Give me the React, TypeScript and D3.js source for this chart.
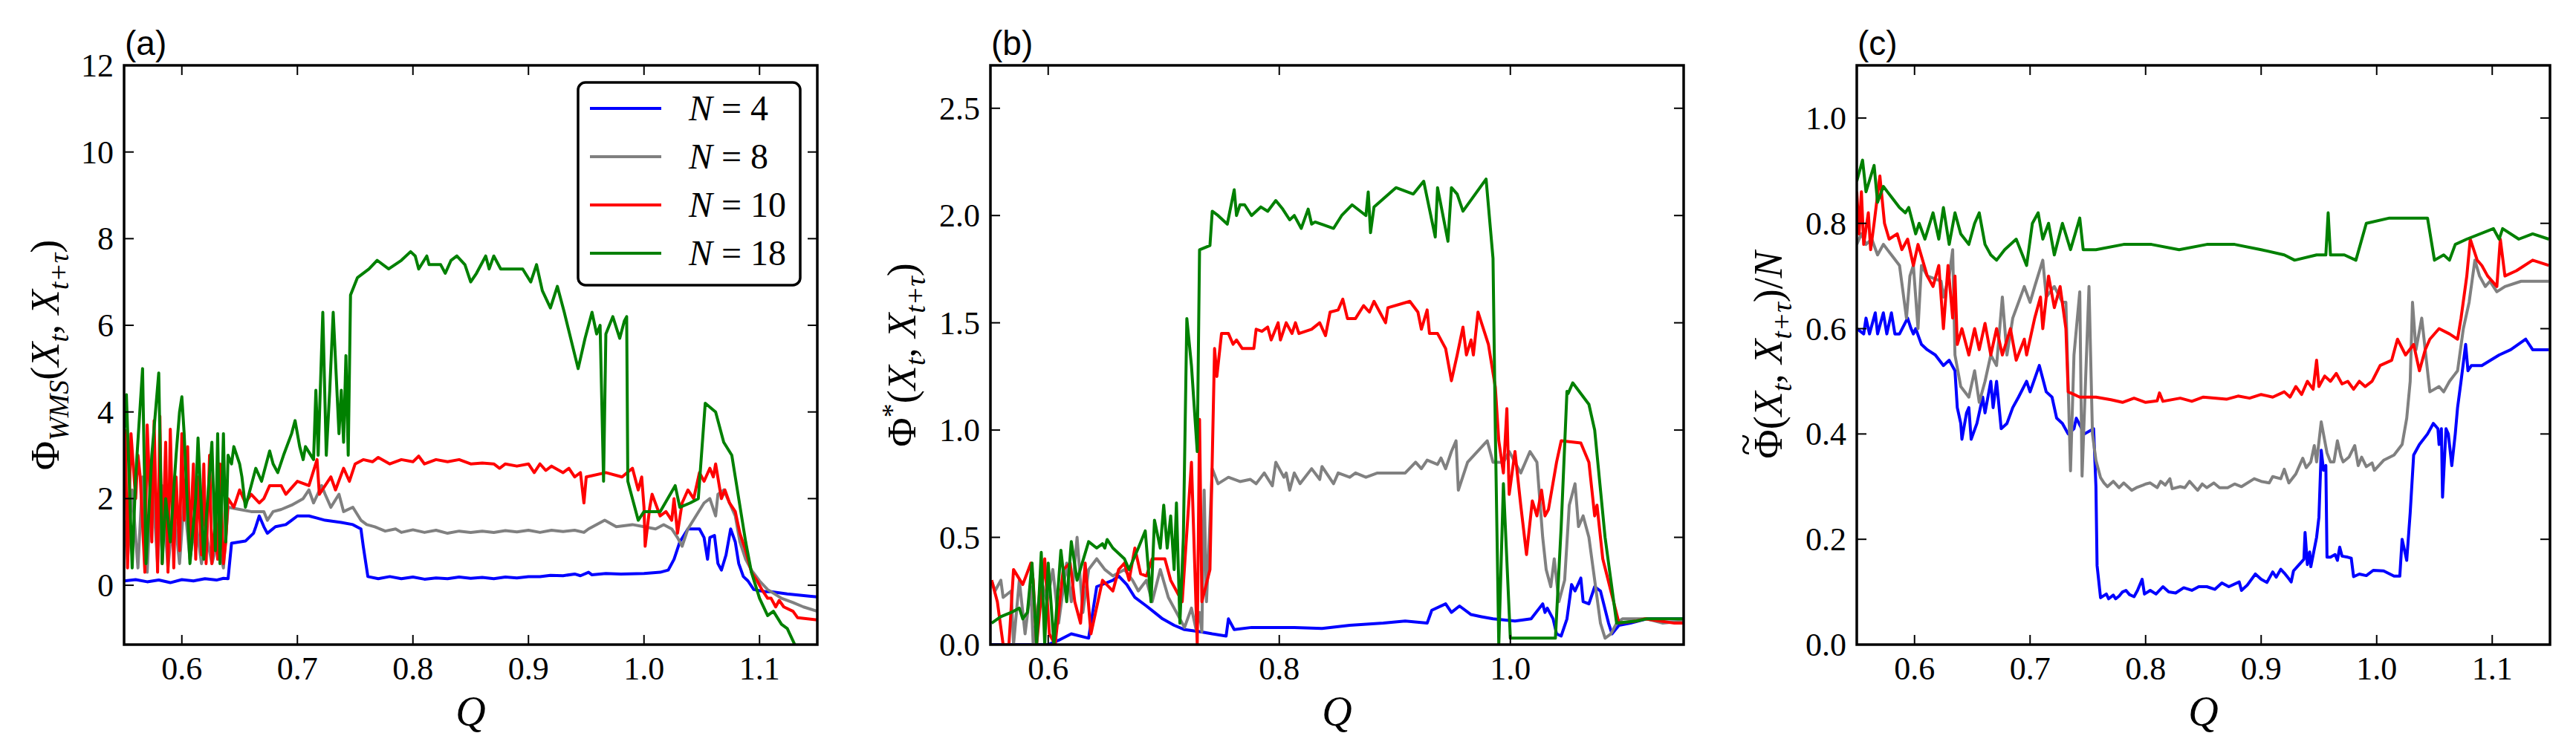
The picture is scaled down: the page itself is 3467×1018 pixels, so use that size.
import * as d3 from "d3";

const WIDTH = 3467;
const HEIGHT = 1018;
const MARGIN = { top: 88, left: 167 };
const PANEL_W = 933;
const PANEL_H = 780;
const PANEL_STEP = 1166;

const SERIF = "'Liberation Serif', 'Times New Roman', serif";
const SANS = "'Liberation Sans', Arial, sans-serif";

const COLORS = ["#0000ff", "#808080", "#ff0000", "#008000"];
const N_VALUES = ["4", "8", "10", "18"];

type Pt = [number, number];

// ---- panel (a): Phi_WMS ----
const wmsN4: Pt[] = [[0.55,0.1],[0.56,0.13],[0.57,0.08],[0.58,0.12],[0.59,0.06],[0.6,0.13],[0.61,0.1],[0.62,0.15],[0.63,0.12],[0.636,0.16],[0.64,0.15],[0.643,0.97],[0.65,1.0],[0.655,1.02],[0.662,1.2],[0.664,1.35],[0.667,1.6],[0.671,1.35],[0.674,1.2],[0.681,1.35],[0.69,1.4],[0.695,1.5],[0.7,1.6],[0.71,1.6],[0.717,1.55],[0.724,1.5],[0.738,1.45],[0.748,1.4],[0.755,1.3],[0.757,0.9],[0.761,0.2],[0.77,0.15],[0.78,0.2],[0.79,0.15],[0.8,0.19],[0.81,0.14],[0.82,0.17],[0.83,0.15],[0.84,0.19],[0.85,0.16],[0.86,0.18],[0.87,0.15],[0.88,0.19],[0.89,0.17],[0.9,0.2],[0.91,0.2],[0.919,0.23],[0.93,0.22],[0.94,0.26],[0.945,0.22],[0.952,0.3],[0.955,0.24],[0.967,0.27],[0.98,0.26],[1.0,0.27],[1.014,0.3],[1.021,0.35],[1.026,0.6],[1.031,1.0],[1.038,1.3],[1.048,1.3],[1.052,1.1],[1.055,0.6],[1.057,1.1],[1.061,1.15],[1.064,0.5],[1.067,0.35],[1.071,0.7],[1.075,1.3],[1.079,1.0],[1.082,0.5],[1.086,0.2],[1.09,0.1],[1.095,-0.1],[1.105,-0.15],[1.11,-0.15],[1.124,-0.2],[1.143,-0.25],[1.15,-0.27]];
const wmsN8: Pt[] = [[0.55,1.5],[0.553,0.6],[0.557,2.2],[0.562,0.4],[0.566,2.5],[0.57,0.3],[0.574,2.6],[0.579,0.5],[0.583,2.3],[0.588,0.4],[0.593,1.8],[0.598,0.5],[0.602,2.0],[0.607,0.6],[0.612,1.5],[0.617,0.5],[0.621,1.2],[0.626,0.5],[0.631,1.0],[0.636,0.4],[0.64,1.8],[0.65,1.75],[0.66,1.7],[0.671,1.7],[0.674,1.5],[0.679,1.7],[0.686,1.75],[0.695,1.85],[0.705,2.0],[0.71,2.2],[0.714,1.9],[0.721,2.3],[0.724,2.1],[0.729,1.8],[0.736,2.1],[0.74,1.7],[0.748,1.8],[0.755,1.5],[0.76,1.4],[0.767,1.35],[0.776,1.25],[0.785,1.3],[0.79,1.22],[0.8,1.28],[0.81,1.22],[0.82,1.27],[0.83,1.2],[0.84,1.25],[0.85,1.22],[0.86,1.25],[0.87,1.22],[0.88,1.26],[0.89,1.23],[0.9,1.27],[0.91,1.22],[0.92,1.27],[0.93,1.24],[0.94,1.27],[0.948,1.22],[0.952,1.3],[0.966,1.5],[0.976,1.35],[0.99,1.4],[1.0,1.35],[1.01,1.3],[1.017,1.4],[1.024,1.3],[1.029,1.1],[1.033,0.9],[1.038,1.3],[1.045,1.6],[1.052,1.9],[1.057,2.0],[1.062,1.6],[1.064,2.1],[1.069,2.2],[1.074,1.9],[1.079,1.6],[1.083,1.0],[1.088,0.6],[1.093,0.35],[1.1,0.1],[1.107,-0.1],[1.119,-0.3],[1.129,-0.4],[1.138,-0.5],[1.15,-0.6]];
const wmsN10: Pt[] = [[0.551,3.6],[0.553,0.4],[0.556,3.5],[0.56,2.0],[0.562,3.0],[0.564,2.5],[0.568,0.3],[0.57,3.7],[0.574,1.0],[0.576,3.8],[0.579,0.3],[0.581,3.9],[0.583,0.5],[0.586,3.3],[0.588,0.3],[0.59,3.6],[0.593,0.4],[0.595,2.5],[0.598,0.8],[0.6,3.5],[0.602,1.5],[0.605,3.2],[0.607,0.9],[0.61,2.8],[0.612,0.6],[0.614,2.5],[0.617,0.7],[0.619,2.8],[0.621,0.5],[0.624,3.0],[0.626,0.5],[0.629,1.5],[0.631,0.6],[0.633,2.8],[0.636,0.5],[0.638,1.0],[0.64,2.0],[0.645,1.8],[0.65,2.2],[0.655,1.9],[0.66,2.1],[0.667,1.9],[0.671,2.0],[0.676,2.3],[0.686,2.3],[0.69,2.1],[0.7,2.4],[0.71,2.3],[0.717,2.9],[0.719,2.1],[0.729,2.5],[0.733,2.2],[0.74,2.7],[0.745,2.4],[0.75,2.8],[0.757,2.9],[0.765,2.85],[0.77,2.95],[0.78,2.8],[0.79,2.9],[0.8,2.85],[0.805,2.98],[0.81,2.8],[0.82,2.9],[0.83,2.85],[0.84,2.9],[0.85,2.8],[0.86,2.82],[0.87,2.8],[0.875,2.7],[0.88,2.8],[0.89,2.75],[0.9,2.8],[0.905,2.6],[0.91,2.8],[0.915,2.65],[0.92,2.75],[0.93,2.6],[0.935,2.7],[0.94,2.5],[0.945,2.6],[0.948,1.9],[0.95,2.5],[0.967,2.6],[0.981,2.5],[0.99,2.7],[0.995,2.2],[0.998,2.5],[1.0,1.8],[1.001,0.9],[1.005,1.8],[1.007,2.1],[1.014,1.6],[1.019,1.7],[1.024,1.5],[1.026,2.0],[1.029,1.2],[1.033,1.9],[1.038,2.2],[1.043,2.0],[1.048,2.6],[1.052,2.4],[1.057,2.7],[1.06,2.5],[1.062,2.8],[1.067,2.0],[1.07,2.2],[1.074,1.9],[1.079,1.7],[1.083,1.2],[1.088,0.8],[1.093,0.3],[1.098,0.1],[1.102,-0.1],[1.107,-0.3],[1.11,-0.3],[1.114,-0.5],[1.117,-0.35],[1.121,-0.5],[1.129,-0.6],[1.133,-0.75],[1.15,-0.8]];
const wmsN18: Pt[] = [[0.55,3.5],[0.552,4.4],[0.557,0.4],[0.56,2.5],[0.566,5.0],[0.569,0.5],[0.574,3.0],[0.58,4.9],[0.583,0.5],[0.586,2.0],[0.59,1.0],[0.595,3.0],[0.598,4.0],[0.6,4.35],[0.602,3.5],[0.607,0.5],[0.612,2.0],[0.614,3.4],[0.619,0.6],[0.621,1.5],[0.626,3.3],[0.629,0.8],[0.631,3.5],[0.633,0.5],[0.636,3.5],[0.638,1.0],[0.64,3.0],[0.643,2.8],[0.645,3.2],[0.65,2.8],[0.652,2.5],[0.655,1.8],[0.66,2.3],[0.664,2.7],[0.669,2.4],[0.676,3.1],[0.679,2.8],[0.683,2.6],[0.688,3.0],[0.695,3.5],[0.698,3.8],[0.702,3.2],[0.705,2.9],[0.707,3.2],[0.714,2.9],[0.716,4.5],[0.718,3.0],[0.722,6.3],[0.725,3.0],[0.728,4.5],[0.731,6.3],[0.736,3.5],[0.738,4.5],[0.74,3.3],[0.742,5.3],[0.744,3.0],[0.746,6.7],[0.752,7.1],[0.762,7.3],[0.769,7.5],[0.779,7.3],[0.79,7.5],[0.798,7.7],[0.802,7.6],[0.805,7.3],[0.812,7.6],[0.814,7.4],[0.824,7.4],[0.828,7.2],[0.833,7.5],[0.838,7.6],[0.845,7.4],[0.85,7.0],[0.855,7.2],[0.863,7.6],[0.866,7.3],[0.87,7.6],[0.876,7.3],[0.895,7.3],[0.902,7.0],[0.907,7.4],[0.912,6.8],[0.919,6.4],[0.925,6.9],[0.931,6.3],[0.943,5.0],[0.949,5.7],[0.955,6.3],[0.959,5.8],[0.962,6.0],[0.965,2.4],[0.967,5.8],[0.973,6.2],[0.979,5.7],[0.983,6.1],[0.985,6.2],[0.986,2.4],[0.99,2.0],[0.995,1.5],[1.0,1.7],[1.014,1.7],[1.027,2.3],[1.031,1.8],[1.04,1.9],[1.047,2.0],[1.053,4.2],[1.062,4.0],[1.069,3.3],[1.076,3.0],[1.088,1.0],[1.093,0.3],[1.1,-0.3],[1.107,-0.7],[1.112,-0.6],[1.119,-0.9],[1.124,-1.0],[1.131,-1.4],[1.138,-1.8]];

// ---- panel (b): Phi* ----
const starN4: Pt[] = [[0.55,0.0],[0.6,0.0],[0.609,0.02],[0.62,0.05],[0.635,0.03],[0.642,0.27],[0.656,0.3],[0.661,0.32],[0.668,0.28],[0.675,0.22],[0.685,0.18],[0.692,0.15],[0.699,0.12],[0.709,0.09],[0.718,0.07],[0.732,0.06],[0.742,0.05],[0.754,0.04],[0.756,0.12],[0.761,0.07],[0.776,0.08],[0.813,0.08],[0.837,0.075],[0.861,0.09],[0.89,0.1],[0.909,0.11],[0.928,0.1],[0.932,0.16],[0.944,0.19],[0.949,0.15],[0.956,0.18],[0.966,0.14],[0.975,0.13],[0.985,0.12],[1.004,0.11],[1.018,0.12],[1.028,0.19],[1.03,0.15],[1.032,0.17],[1.037,0.12],[1.04,0.05],[1.044,0.04],[1.049,0.12],[1.053,0.28],[1.056,0.25],[1.061,0.31],[1.063,0.2],[1.068,0.19],[1.073,0.27],[1.078,0.25],[1.085,0.1],[1.088,0.05],[1.094,0.09],[1.104,0.1],[1.118,0.12],[1.15,0.12]];
const starN8: Pt[] = [[0.551,0.3],[0.554,0.25],[0.559,0.3],[0.561,0.22],[0.568,0.25],[0.57,0.0],[0.575,0.3],[0.58,0.05],[0.585,0.27],[0.587,0.0],[0.594,0.3],[0.599,0.2],[0.604,0.35],[0.609,0.1],[0.616,0.38],[0.62,0.2],[0.625,0.5],[0.63,0.15],[0.635,0.35],[0.642,0.4],[0.649,0.35],[0.656,0.32],[0.666,0.35],[0.673,0.3],[0.678,0.25],[0.685,0.3],[0.69,0.2],[0.697,0.35],[0.704,0.22],[0.711,0.15],[0.718,0.08],[0.724,0.17],[0.728,0.07],[0.731,0.15],[0.733,0.06],[0.735,0.72],[0.737,0.2],[0.742,0.82],[0.747,0.75],[0.756,0.78],[0.766,0.76],[0.775,0.77],[0.78,0.75],[0.787,0.8],[0.794,0.74],[0.797,0.85],[0.804,0.78],[0.806,0.8],[0.809,0.72],[0.813,0.8],[0.818,0.75],[0.828,0.82],[0.835,0.77],[0.837,0.83],[0.847,0.75],[0.851,0.8],[0.861,0.78],[0.866,0.8],[0.875,0.78],[0.885,0.8],[0.909,0.8],[0.918,0.85],[0.923,0.82],[0.928,0.86],[0.937,0.84],[0.94,0.87],[0.944,0.82],[0.949,0.9],[0.953,0.95],[0.955,0.72],[0.963,0.85],[0.98,0.95],[0.985,0.85],[0.994,0.85],[0.999,0.9],[1.009,0.8],[1.013,0.85],[1.017,0.9],[1.023,0.85],[1.028,0.5],[1.031,0.35],[1.035,0.27],[1.038,0.4],[1.042,0.2],[1.047,0.3],[1.051,0.65],[1.056,0.75],[1.059,0.55],[1.063,0.6],[1.068,0.5],[1.073,0.3],[1.078,0.1],[1.082,0.03],[1.087,0.05],[1.092,0.1],[1.097,0.12],[1.118,0.12],[1.132,0.1],[1.15,0.11]];
const starN10: Pt[] = [[0.551,0.3],[0.556,0.2],[0.561,0.0],[0.566,0.0],[0.57,0.35],[0.578,0.28],[0.585,0.38],[0.587,0.3],[0.59,0.0],[0.597,0.4],[0.601,0.05],[0.606,0.0],[0.613,0.35],[0.619,0.38],[0.623,0.2],[0.628,0.1],[0.632,0.38],[0.637,0.05],[0.647,0.3],[0.656,0.25],[0.661,0.35],[0.666,0.38],[0.67,0.3],[0.675,0.45],[0.68,0.33],[0.685,0.32],[0.69,0.4],[0.701,0.4],[0.706,0.3],[0.711,0.25],[0.716,0.2],[0.724,0.85],[0.729,0.0],[0.731,1.05],[0.733,0.2],[0.74,0.35],[0.744,1.38],[0.746,1.25],[0.75,1.45],[0.756,1.45],[0.76,1.4],[0.763,1.42],[0.768,1.38],[0.778,1.38],[0.78,1.47],[0.785,1.46],[0.79,1.48],[0.793,1.42],[0.799,1.5],[0.801,1.42],[0.806,1.5],[0.811,1.45],[0.814,1.5],[0.817,1.45],[0.828,1.47],[0.835,1.5],[0.84,1.44],[0.844,1.55],[0.851,1.56],[0.855,1.61],[0.859,1.52],[0.866,1.52],[0.873,1.58],[0.878,1.55],[0.882,1.6],[0.887,1.55],[0.892,1.5],[0.894,1.57],[0.913,1.6],[0.92,1.55],[0.923,1.47],[0.928,1.56],[0.93,1.45],[0.937,1.45],[0.944,1.38],[0.949,1.23],[0.954,1.35],[0.959,1.48],[0.962,1.35],[0.966,1.42],[0.968,1.35],[0.97,1.45],[0.972,1.55],[0.978,1.45],[0.981,1.4],[0.987,1.2],[0.99,0.95],[0.994,0.8],[0.997,1.1],[0.999,0.7],[1.004,0.9],[1.009,0.65],[1.014,0.42],[1.019,0.67],[1.023,0.6],[1.027,0.72],[1.03,0.6],[1.033,0.63],[1.04,0.85],[1.044,0.95],[1.061,0.94],[1.068,0.85],[1.073,0.6],[1.075,0.65],[1.08,0.4],[1.087,0.25],[1.094,0.1],[1.109,0.11],[1.116,0.12],[1.13,0.11],[1.142,0.1],[1.15,0.1]];
const starN18: Pt[] = [[0.551,0.1],[0.559,0.13],[0.568,0.15],[0.575,0.17],[0.578,0.12],[0.582,0.15],[0.586,0.38],[0.59,0.0],[0.594,0.43],[0.597,0.0],[0.6,0.38],[0.605,0.0],[0.611,0.44],[0.616,0.2],[0.62,0.48],[0.625,0.3],[0.635,0.48],[0.642,0.45],[0.647,0.47],[0.649,0.45],[0.651,0.49],[0.656,0.45],[0.666,0.4],[0.67,0.35],[0.678,0.45],[0.684,0.53],[0.689,0.2],[0.692,0.58],[0.697,0.45],[0.7,0.65],[0.703,0.45],[0.706,0.6],[0.709,0.35],[0.711,0.66],[0.714,0.1],[0.717,0.5],[0.72,1.52],[0.724,1.3],[0.729,0.9],[0.731,1.84],[0.74,1.86],[0.742,2.02],[0.747,2.0],[0.755,1.96],[0.761,2.12],[0.763,2.0],[0.766,2.05],[0.77,2.05],[0.776,2.0],[0.784,2.04],[0.79,2.02],[0.797,2.07],[0.803,2.03],[0.809,1.98],[0.813,2.0],[0.819,1.94],[0.825,2.03],[0.828,1.96],[0.831,1.97],[0.847,1.94],[0.854,2.0],[0.863,2.05],[0.875,2.0],[0.877,2.11],[0.879,1.92],[0.882,2.04],[0.901,2.13],[0.916,2.1],[0.925,2.16],[0.935,1.9],[0.937,2.13],[0.946,1.88],[0.949,2.13],[0.954,2.1],[0.959,2.02],[0.979,2.17],[0.985,1.8],[0.987,1.0],[0.99,0.0],[0.994,0.75],[1.0,0.03],[1.039,0.03],[1.044,0.55],[1.049,1.18],[1.05,1.17],[1.054,1.22],[1.068,1.12],[1.073,1.0],[1.082,0.5],[1.087,0.3],[1.092,0.1],[1.109,0.11],[1.118,0.12],[1.15,0.12]];

// ---- panel (c): normalised Phi ----
const normN4: Pt[] = [[0.55,0.6],[0.556,0.59],[0.558,0.62],[0.561,0.59],[0.566,0.63],[0.568,0.59],[0.573,0.63],[0.576,0.59],[0.58,0.63],[0.583,0.59],[0.587,0.59],[0.594,0.62],[0.597,0.6],[0.599,0.59],[0.601,0.6],[0.606,0.57],[0.611,0.56],[0.618,0.55],[0.625,0.53],[0.63,0.54],[0.635,0.52],[0.637,0.45],[0.64,0.42],[0.641,0.39],[0.645,0.44],[0.647,0.45],[0.649,0.39],[0.654,0.42],[0.659,0.47],[0.661,0.44],[0.666,0.5],[0.668,0.45],[0.671,0.5],[0.675,0.41],[0.68,0.42],[0.685,0.45],[0.69,0.47],[0.697,0.5],[0.7,0.48],[0.708,0.53],[0.714,0.48],[0.719,0.47],[0.723,0.43],[0.728,0.42],[0.733,0.4],[0.738,0.41],[0.74,0.43],[0.747,0.4],[0.755,0.41],[0.757,0.3],[0.758,0.15],[0.761,0.089],[0.766,0.096],[0.768,0.087],[0.772,0.094],[0.774,0.087],[0.777,0.092],[0.78,0.1],[0.783,0.103],[0.786,0.095],[0.79,0.091],[0.793,0.103],[0.797,0.124],[0.799,0.096],[0.804,0.103],[0.809,0.096],[0.815,0.11],[0.82,0.1],[0.826,0.098],[0.833,0.108],[0.84,0.103],[0.846,0.11],[0.853,0.11],[0.86,0.105],[0.866,0.117],[0.872,0.11],[0.881,0.119],[0.883,0.103],[0.888,0.113],[0.895,0.134],[0.9,0.124],[0.905,0.118],[0.91,0.138],[0.913,0.128],[0.917,0.143],[0.92,0.136],[0.924,0.125],[0.926,0.119],[0.928,0.14],[0.937,0.162],[0.938,0.213],[0.94,0.152],[0.942,0.176],[0.943,0.148],[0.948,0.204],[0.95,0.242],[0.952,0.369],[0.954,0.331],[0.956,0.34],[0.957,0.166],[0.96,0.166],[0.964,0.171],[0.966,0.16],[0.968,0.185],[0.97,0.168],[0.975,0.166],[0.978,0.164],[0.98,0.129],[0.985,0.134],[0.991,0.131],[0.997,0.141],[1.006,0.14],[1.015,0.13],[1.02,0.13],[1.022,0.2],[1.026,0.16],[1.029,0.25],[1.032,0.36],[1.037,0.38],[1.044,0.4],[1.049,0.42],[1.053,0.41],[1.054,0.38],[1.056,0.41],[1.057,0.28],[1.06,0.41],[1.062,0.4],[1.065,0.34],[1.068,0.4],[1.07,0.45],[1.073,0.5],[1.077,0.57],[1.079,0.52],[1.082,0.53],[1.091,0.53],[1.106,0.55],[1.116,0.56],[1.129,0.58],[1.135,0.56],[1.149,0.56]];
const normN8: Pt[] = [[0.55,0.76],[0.554,0.78],[0.558,0.76],[0.563,0.77],[0.568,0.74],[0.573,0.76],[0.58,0.74],[0.587,0.72],[0.593,0.62],[0.596,0.7],[0.599,0.72],[0.603,0.6],[0.606,0.72],[0.611,0.7],[0.623,0.69],[0.625,0.66],[0.63,0.7],[0.633,0.75],[0.635,0.55],[0.64,0.49],[0.647,0.47],[0.652,0.52],[0.656,0.46],[0.661,0.5],[0.666,0.55],[0.671,0.53],[0.676,0.66],[0.68,0.55],[0.685,0.62],[0.69,0.65],[0.695,0.68],[0.7,0.65],[0.704,0.68],[0.711,0.73],[0.714,0.66],[0.721,0.68],[0.728,0.65],[0.731,0.65],[0.735,0.33],[0.738,0.55],[0.743,0.67],[0.745,0.32],[0.751,0.68],[0.754,0.4],[0.757,0.35],[0.761,0.317],[0.764,0.307],[0.767,0.3],[0.772,0.31],[0.777,0.298],[0.781,0.307],[0.788,0.293],[0.792,0.298],[0.798,0.303],[0.8,0.305],[0.804,0.307],[0.81,0.298],[0.813,0.31],[0.817,0.303],[0.821,0.315],[0.823,0.296],[0.83,0.3],[0.834,0.298],[0.838,0.31],[0.845,0.293],[0.849,0.305],[0.853,0.298],[0.859,0.307],[0.864,0.298],[0.871,0.298],[0.877,0.305],[0.883,0.3],[0.894,0.315],[0.9,0.31],[0.907,0.307],[0.91,0.319],[0.917,0.315],[0.92,0.333],[0.924,0.307],[0.93,0.324],[0.936,0.354],[0.939,0.336],[0.943,0.347],[0.946,0.378],[0.948,0.347],[0.952,0.423],[0.957,0.364],[0.96,0.347],[0.963,0.347],[0.966,0.387],[0.969,0.358],[0.971,0.347],[0.976,0.356],[0.981,0.378],[0.984,0.34],[0.987,0.356],[0.991,0.338],[0.996,0.345],[0.998,0.331],[1.006,0.35],[1.015,0.36],[1.022,0.38],[1.026,0.43],[1.029,0.5],[1.031,0.65],[1.034,0.56],[1.039,0.62],[1.044,0.52],[1.046,0.48],[1.054,0.49],[1.058,0.48],[1.063,0.5],[1.07,0.52],[1.075,0.6],[1.08,0.65],[1.085,0.73],[1.089,0.7],[1.094,0.68],[1.098,0.69],[1.104,0.67],[1.111,0.68],[1.125,0.69],[1.149,0.69]];
const normN10: Pt[] = [[0.55,0.86],[0.552,0.78],[0.554,0.86],[0.556,0.76],[0.56,0.82],[0.562,0.75],[0.565,0.8],[0.57,0.89],[0.574,0.8],[0.578,0.77],[0.585,0.78],[0.589,0.75],[0.594,0.77],[0.599,0.72],[0.603,0.76],[0.611,0.7],[0.616,0.68],[0.621,0.72],[0.625,0.6],[0.629,0.72],[0.633,0.62],[0.635,0.7],[0.637,0.57],[0.641,0.6],[0.647,0.55],[0.652,0.6],[0.656,0.56],[0.661,0.61],[0.666,0.55],[0.671,0.6],[0.676,0.55],[0.683,0.6],[0.688,0.54],[0.695,0.58],[0.697,0.55],[0.704,0.62],[0.709,0.66],[0.711,0.6],[0.716,0.7],[0.721,0.64],[0.726,0.68],[0.731,0.6],[0.733,0.48],[0.743,0.47],[0.757,0.47],[0.77,0.465],[0.78,0.46],[0.79,0.468],[0.8,0.46],[0.81,0.463],[0.812,0.478],[0.815,0.462],[0.83,0.468],[0.84,0.462],[0.85,0.47],[0.87,0.466],[0.88,0.472],[0.89,0.468],[0.9,0.475],[0.91,0.47],[0.92,0.48],[0.925,0.47],[0.93,0.49],[0.935,0.475],[0.94,0.5],[0.945,0.485],[0.948,0.54],[0.95,0.49],[0.955,0.51],[0.96,0.5],[0.965,0.515],[0.97,0.495],[0.975,0.5],[0.98,0.485],[0.985,0.5],[0.99,0.49],[0.996,0.5],[1.003,0.53],[1.013,0.54],[1.018,0.58],[1.025,0.55],[1.032,0.57],[1.037,0.52],[1.042,0.56],[1.046,0.58],[1.054,0.6],[1.063,0.59],[1.07,0.58],[1.073,0.62],[1.078,0.7],[1.081,0.77],[1.087,0.73],[1.091,0.72],[1.096,0.7],[1.104,0.68],[1.107,0.77],[1.111,0.7],[1.121,0.71],[1.135,0.73],[1.149,0.72]];
const normN18: Pt[] = [[0.55,0.88],[0.555,0.92],[0.558,0.86],[0.565,0.91],[0.568,0.84],[0.573,0.87],[0.58,0.85],[0.587,0.83],[0.592,0.82],[0.595,0.83],[0.601,0.78],[0.604,0.8],[0.609,0.77],[0.616,0.82],[0.621,0.77],[0.625,0.83],[0.63,0.76],[0.635,0.82],[0.64,0.78],[0.647,0.76],[0.652,0.8],[0.656,0.82],[0.661,0.76],[0.666,0.74],[0.671,0.73],[0.678,0.75],[0.688,0.77],[0.697,0.72],[0.702,0.8],[0.707,0.82],[0.711,0.77],[0.716,0.8],[0.721,0.74],[0.728,0.8],[0.735,0.75],[0.743,0.81],[0.746,0.75],[0.757,0.75],[0.781,0.76],[0.805,0.76],[0.829,0.75],[0.853,0.76],[0.877,0.76],[0.9,0.75],[0.92,0.74],[0.929,0.73],[0.948,0.74],[0.956,0.74],[0.958,0.82],[0.96,0.74],[0.972,0.74],[0.982,0.73],[0.991,0.8],[1.011,0.81],[1.044,0.81],[1.05,0.73],[1.058,0.74],[1.063,0.73],[1.068,0.76],[1.078,0.77],[1.101,0.79],[1.106,0.77],[1.109,0.79],[1.123,0.77],[1.135,0.78],[1.149,0.77]];

const X_DOMAIN: [number, number] = [0.55, 1.15];
const X_TICKS_FINE = [0.6, 0.7, 0.8, 0.9, 1.0, 1.1];
const X_TICKS_COARSE = [0.6, 0.8, 1.0];
const Y_TICKS_A = [0, 2, 4, 6, 8, 10, 12];
const Y_TICKS_B = [0, 0.5, 1.0, 1.5, 2.0, 2.5];
const Y_TICKS_C = [0, 0.2, 0.4, 0.6, 0.8, 1.0];

// a piece of math text: italic, subscript, superscript, or an accent laid over the previous glyph
type Seg = { t: string; i?: boolean; sub?: boolean; sup?: boolean; accent?: boolean };

const LABEL_A: Seg[] = [
  { t: "Φ" }, { t: "WMS", i: true, sub: true }, { t: "(" },
  { t: "X", i: true }, { t: "t", i: true, sub: true }, { t: ", " },
  { t: "X", i: true }, { t: "t+τ", i: true, sub: true }, { t: ")" },
];
const LABEL_B: Seg[] = [
  { t: "Φ" }, { t: "*", sup: true }, { t: "(" },
  { t: "X", i: true }, { t: "t", i: true, sub: true }, { t: ", " },
  { t: "X", i: true }, { t: "t+τ", i: true, sub: true }, { t: ")" },
];
const LABEL_C: Seg[] = [
  { t: "Φ" }, { t: "~", accent: true }, { t: "(" },
  { t: "X", i: true }, { t: "t", i: true, sub: true }, { t: ", " },
  { t: "X", i: true }, { t: "t+τ", i: true, sub: true }, { t: ")/" }, { t: "N", i: true },
];

const MathText = ({ segs, size }: { segs: Seg[]; size: number }) => {
  let shift = 0;
  let pendingDx = 0;
  const phiW = size * 0.76;
  const tildeW = size * 0.54;
  return (
    <>
      {segs.map((s, k) => {
        let target = 0;
        let dx = pendingDx;
        pendingDx = 0;
        if (s.sub) target = size * 0.24;
        if (s.sup) target = -size * 0.36;
        if (s.accent) {
          target = -size * 0.56;
          dx = -(phiW + tildeW) / 2;
          pendingDx = (phiW - tildeW) / 2;
        }
        const dy = target - shift;
        shift = target;
        return (
          <tspan
            key={k}
            dx={dx}
            dy={dy}
            fontStyle={s.i ? "italic" : "normal"}
            fontSize={s.sub || s.sup ? size * 0.7 : size}
          >
            {s.t}
          </tspan>
        );
      })}
    </>
  );
};

type PanelProps = {
  index: number;
  letter: string;
  series: Pt[][];
  yDomain: [number, number];
  yTicks: number[];
  xTicks: number[];
  yFormat: (v: number) => string;
  yLabel: Seg[];
  yLabelOffset: number;
  legend?: boolean;
};

const Panel = ({ index, letter, series, yDomain, yTicks, xTicks, yFormat, yLabel, yLabelOffset, legend }: PanelProps) => {
  const left = MARGIN.left + index * PANEL_STEP;
  const x = d3.scaleLinear().domain(X_DOMAIN).range([0, PANEL_W]);
  const y = d3.scaleLinear().domain(yDomain).range([PANEL_H, 0]);
  const line = d3
    .line<Pt>()
    .x((d) => x(d[0]))
    .y((d) => y(d[1]));
  const clipId = `clip-${letter}`;
  const tickLen = 13;

  return (
    <g transform={`translate(${left},${MARGIN.top})`}>
      <defs>
        <clipPath id={clipId}>
          <rect x={0} y={0} width={PANEL_W} height={PANEL_H} />
        </clipPath>
      </defs>

      <g clipPath={`url(#${clipId})`}>
        {series.map((s, k) => (
          <path
            key={k}
            d={line(s) || ""}
            fill="none"
            stroke={COLORS[k]}
            strokeWidth={4}
            strokeLinejoin="round"
          />
        ))}
      </g>

      {/* ticks point inwards on all four sides */}
      {xTicks.map((t) => (
        <g key={`x${t}`}>
          <line x1={x(t)} x2={x(t)} y1={PANEL_H} y2={PANEL_H - tickLen} stroke="#000" strokeWidth={2} />
          <line x1={x(t)} x2={x(t)} y1={0} y2={tickLen} stroke="#000" strokeWidth={2} />
          <text x={x(t)} y={PANEL_H + 47} textAnchor="middle" fontFamily={SERIF} fontSize={44}>
            {d3.format(".1f")(t)}
          </text>
        </g>
      ))}
      {yTicks.map((t) => (
        <g key={`y${t}`}>
          <line x1={0} x2={tickLen} y1={y(t)} y2={y(t)} stroke="#000" strokeWidth={2} />
          <line x1={PANEL_W} x2={PANEL_W - tickLen} y1={y(t)} y2={y(t)} stroke="#000" strokeWidth={2} />
          <text x={-14} y={y(t)} dy="0.34em" textAnchor="end" fontFamily={SERIF} fontSize={44}>
            {yFormat(t)}
          </text>
        </g>
      ))}

      <rect x={0} y={0} width={PANEL_W} height={PANEL_H} fill="none" stroke="#000" strokeWidth={3.5} />

      <text x={1} y={-14} fontFamily={SANS} fontSize={46}>
        ({letter})
      </text>

      <text x={PANEL_W / 2} y={PANEL_H + 109} textAnchor="middle" fontFamily={SERIF} fontStyle="italic" fontSize={56}>
        Q
      </text>

      <text
        transform={`translate(${yLabelOffset},${PANEL_H / 2}) rotate(-90)`}
        textAnchor="middle"
        fontFamily={SERIF}
        fontSize={54}
      >
        <MathText segs={yLabel} size={54} />
      </text>

      {legend && (
        <g transform={`translate(${PANEL_W - 322},23)`}>
          <rect x={0} y={0} width={299} height={273} rx={10} fill="#fff" stroke="#000" strokeWidth={3.5} />
          {N_VALUES.map((n, k) => (
            <g key={n} transform={`translate(0,${35 + k * 65})`}>
              <line x1={16} x2={112} y1={0} y2={0} stroke={COLORS[k]} strokeWidth={4} />
              <text x={149} y={16} fontFamily={SERIF} fontSize={48}>
                <tspan fontStyle="italic">N</tspan>
                <tspan> = {n}</tspan>
              </text>
            </g>
          ))}
        </g>
      )}
    </g>
  );
};

export default function App() {
  return (
    <svg
      width={WIDTH}
      height={HEIGHT}
      style={{ position: "absolute", left: 0, top: 0, background: "#fff" }}
    >
      <rect width={WIDTH} height={HEIGHT} fill="#fff" />
      <Panel
        index={0}
        letter="a"
        series={[wmsN4, wmsN8, wmsN10, wmsN18]}
        yDomain={[-1.37, 12]}
        yTicks={Y_TICKS_A}
        xTicks={X_TICKS_FINE}
        yFormat={d3.format("d")}
        yLabel={LABEL_A}
        yLabelOffset={-88}
        legend
      />
      <Panel
        index={1}
        letter="b"
        series={[starN4, starN8, starN10, starN18]}
        yDomain={[0, 2.7]}
        yTicks={Y_TICKS_B}
        xTicks={X_TICKS_COARSE}
        yFormat={d3.format(".1f")}
        yLabel={LABEL_B}
        yLabelOffset={-101}
      />
      <Panel
        index={2}
        letter="c"
        series={[normN4, normN8, normN10, normN18]}
        yDomain={[0, 1.1]}
        yTicks={Y_TICKS_C}
        xTicks={X_TICKS_FINE}
        yFormat={d3.format(".1f")}
        yLabel={LABEL_C}
        yLabelOffset={-101}
      />
    </svg>
  );
}
